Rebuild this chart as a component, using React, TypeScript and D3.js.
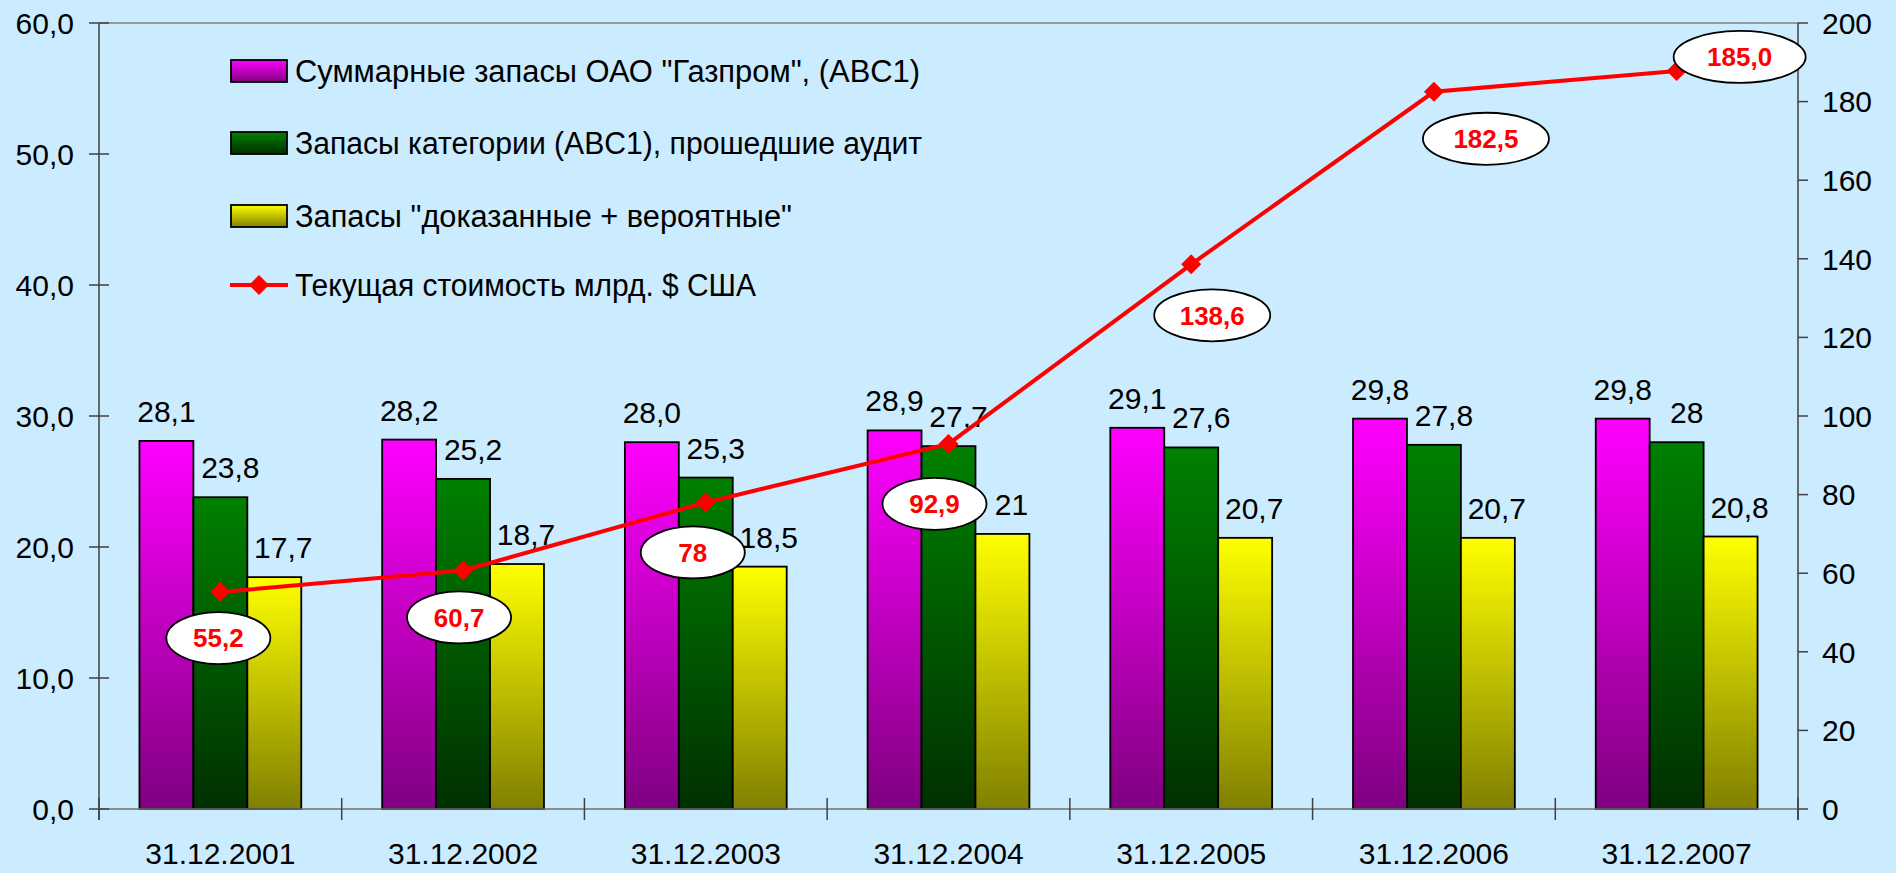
import React from 'react';
import * as d3 from 'd3';

const categories = ['31.12.2001', '31.12.2002', '31.12.2003', '31.12.2004', '31.12.2005', '31.12.2006', '31.12.2007'];
const seriesNames = [
  'Суммарные запасы ОАО "Газпром", (ABC1)',
  'Запасы категории (ABC1), прошедшие аудит',
  'Запасы "доказанные + вероятные"',
];
const lineName = 'Текущая стоимость млрд. $ США';

const totalReserves = [28.1, 28.2, 28.0, 28.9, 29.1, 29.8, 29.8];
const auditedReserves = [23.8, 25.2, 25.3, 27.7, 27.6, 27.8, 28];
const provenProbable = [17.7, 18.7, 18.5, 21, 20.7, 20.7, 20.8];
const currentValue = [55.2, 60.7, 78, 92.9, 138.6, 182.5, 187.8];
const currentValueLabels = ['55,2', '60,7', '78', '92,9', '138,6', '182,5', '185,0'];

const leftTicks = [0, 10, 20, 30, 40, 50, 60];
const rightTicks = [0, 20, 40, 60, 80, 100, 120, 140, 160, 180, 200];

// layout / style (not data)
const W = 1896, H = 873;
const left = 99, right = 1798, top = 23, bottom = 809;
const font = '"Liberation Sans", Arial, sans-serif';
const gradients = [
  ['#ff00ff', '#800080'],
  ['#008000', '#003000'],
  ['#ffff00', '#808000'],
];
const barLabelDx = [0, 10, 9];
// ellipse label placement relative to each marker: dx, dy, rx
const bubbleOffsets = [
  [-2, 46, 52], [-4, 47, 52], [-13, 50, 52], [-14, 60, 52],
  [21, 51, 58], [52, 47, 63], [63, -14, 66],
];
const legendY = [71, 143, 216, 285];
const legendWidths = [625, 627, 497, 461];

const commaFmt = (v: number) => String(v).replace('.', ',');
const oneDec = (v: number) => d3.format('.1f')(v).replace('.', ',');

export default function App() {
  const series = [totalReserves, auditedReserves, provenProbable];
  const x = d3.scaleBand<string>().domain(categories).range([left, right]).padding(0);
  const xs = d3.scaleBand<number>().domain([0, 1, 2]).range([0, x.bandwidth()]).paddingInner(0).paddingOuter(0.75);
  const yL = d3.scaleLinear().domain([0, 60]).range([bottom, top]);
  const yR = d3.scaleLinear().domain([0, 200]).range([bottom, top]);
  const cx = (c: string) => (x(c) as number) + x.bandwidth() / 2;

  const line = d3.line<number>().x((_, i) => cx(categories[i])).y((d) => yR(d));
  const diamond = d3.symbol().type(d3.symbolSquare).size(200)();
  const boundaries = d3.range(categories.length + 1).map((i) => left + i * x.bandwidth());

  return (
    <svg width={W} height={H} style={{ position: 'absolute', left: 0, top: 0 }} fontFamily={font}>
      <defs>
        {gradients.map((g, i) => (
          <linearGradient key={i} id={'grad' + i} x1="0" y1="0" x2="0" y2="1">
            <stop offset="0" stopColor={g[0]} />
            <stop offset="1" stopColor={g[1]} />
          </linearGradient>
        ))}
      </defs>
      <rect width={W} height={H} fill="#cbebfe" />

      {/* plot border top */}
      <line x1={left} x2={right} y1={top} y2={top} stroke="#808080" strokeWidth={1.5} />

      {/* bars */}
      {series.map((vals, s) =>
        vals.map((v, i) => (
          <rect key={s + '-' + i}
            x={(x(categories[i]) as number) + (xs(s) as number)}
            y={yL(v)}
            width={xs.bandwidth()}
            height={bottom - yL(v)}
            fill={`url(#grad${s})`}
            stroke="#000" strokeWidth={1.8} />
        ))
      )}

      {/* bar labels */}
      {series.map((vals, s) =>
        vals.map((v, i) => (
          <text key={'l' + s + '-' + i}
            x={(x(categories[i]) as number) + (xs(s) as number) + xs.bandwidth() / 2 + barLabelDx[s]}
            y={yL(v) - 19}
            textAnchor="middle" fontSize={30} fill="#000">
            {s === 0 ? oneDec(v) : commaFmt(v)}
          </text>
        ))
      )}

      {/* axes */}
      <line x1={left} x2={right} y1={bottom} y2={bottom} stroke="#707070" strokeWidth={1.5} />
      <line x1={left} x2={left} y1={top} y2={bottom + 11} stroke="#404040" strokeWidth={1.5} />
      <line x1={right} x2={right} y1={top} y2={bottom + 11} stroke="#404040" strokeWidth={1.5} />
      {boundaries.map((b, i) => (
        <line key={'b' + i} x1={b} x2={b} y1={bottom - 11} y2={bottom + 11} stroke="#404040" strokeWidth={1.5} />
      ))}
      {leftTicks.map((t) => (
        <g key={'lt' + t}>
          <line x1={left - 10} x2={left + 10} y1={yL(t)} y2={yL(t)} stroke="#404040" strokeWidth={1.5} />
          <text x={74} y={yL(t)} dy="0.36em" textAnchor="end" fontSize={30}>{oneDec(t)}</text>
        </g>
      ))}
      {rightTicks.map((t) => (
        <g key={'rt' + t}>
          <line x1={right} x2={right + 10} y1={yR(t)} y2={yR(t)} stroke="#404040" strokeWidth={1.5} />
          <text x={1822} y={yR(t)} dy="0.36em" textAnchor="start" fontSize={30}>{t}</text>
        </g>
      ))}
      {categories.map((c) => (
        <text key={c} x={cx(c)} y={864} textAnchor="middle" fontSize={30}>{c}</text>
      ))}

      {/* line series */}
      <path d={line(currentValue) as string} fill="none" stroke="#ff0000" strokeWidth={4} />
      {currentValue.map((v, i) => (
        <path key={'m' + i} d={diamond as string} fill="#ff0000"
          transform={`translate(${cx(categories[i])},${yR(v)}) rotate(45)`} />
      ))}
      {currentValue.map((v, i) => {
        const [dx, dy, rx] = bubbleOffsets[i];
        const ex = cx(categories[i]) + dx;
        const ey = yR(v) + dy;
        return (
          <g key={'e' + i}>
            <ellipse cx={ex} cy={ey} rx={rx} ry={26} fill="#fff" stroke="#000" strokeWidth={1.8} />
            <text x={ex} y={ey} dy="0.36em" textAnchor="middle" fontSize={26} fontWeight="bold" fill="#ff0000">
              {currentValueLabels[i]}
            </text>
          </g>
        );
      })}

      {/* legend */}
      {seriesNames.map((n, s) => (
        <g key={'lg' + s}>
          <rect x={231} y={legendY[s] - 11} width={56} height={22} fill={`url(#grad${s})`} stroke="#000" strokeWidth={1.8} />
          <text x={295} y={legendY[s]} dy="0.36em" fontSize={31}
            textLength={legendWidths[s]} lengthAdjust="spacingAndGlyphs">{n}</text>
        </g>
      ))}
      <g>
        <line x1={230} x2={288} y1={legendY[3]} y2={legendY[3]} stroke="#ff0000" strokeWidth={4} />
        <path d={diamond as string} fill="#ff0000" transform={`translate(259,${legendY[3]}) rotate(45)`} />
        <text x={295} y={legendY[3]} dy="0.36em" fontSize={31}
          textLength={legendWidths[3]} lengthAdjust="spacingAndGlyphs">{lineName}</text>
      </g>
    </svg>
  );
}
